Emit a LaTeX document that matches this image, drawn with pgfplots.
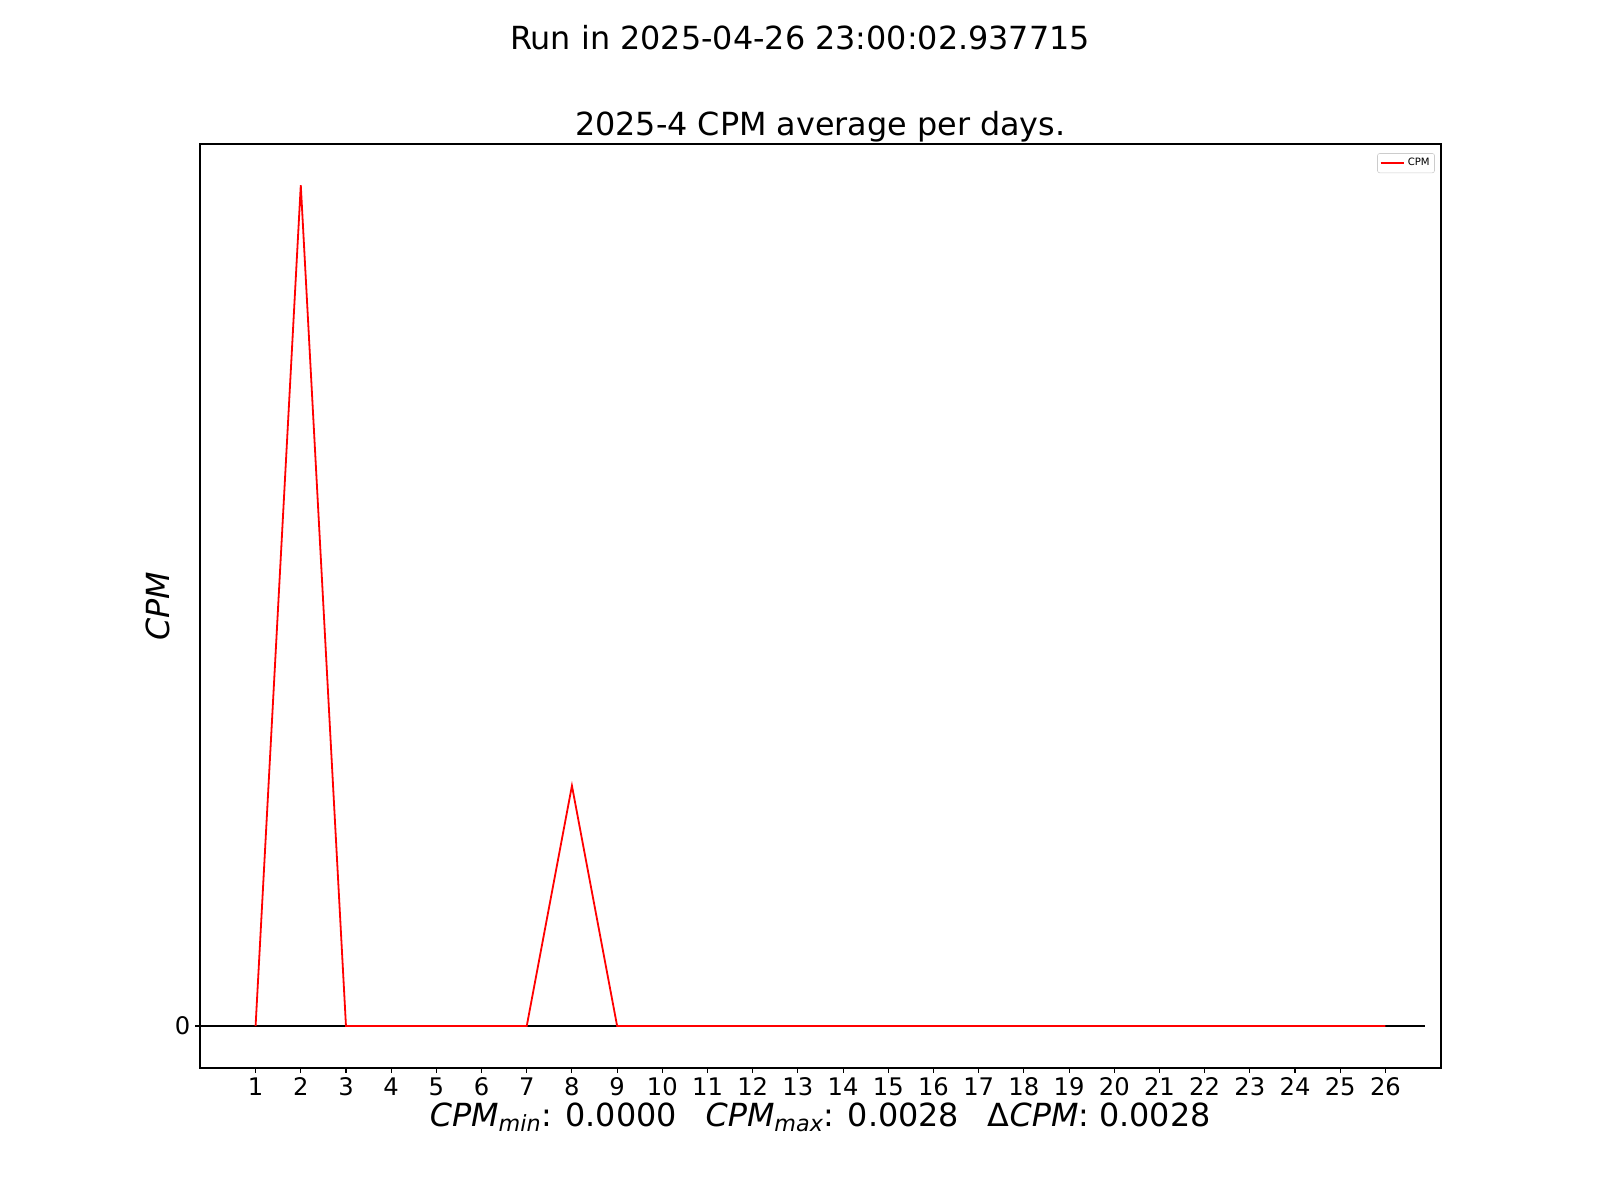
\documentclass[border=0pt]{standalone}
\usepackage{pgfplots}
\pgfplotsset{compat=1.18}
\usepackage{fontspec}
\setmainfont{DejaVu Sans}
\begin{document}
\begin{tikzpicture}[x=1bp,y=1bp]
\useasboundingbox (0,0) rectangle (1152,864);
\begin{axis}[
  at={(144bp,95bp)}, anchor=south west,
  scale only axis, width=893.5bp, height=665.3bp,
  xmin=-0.23, xmax=27.23,
  ymin=-0.00014, ymax=0.002937,
  xtick={1,...,26}, ytick={0}, yticklabels={0},
  tick align=outside, tick pos=lower,
  major tick length=3.5bp,
  every tick/.style={black, line width=0.8bp},
  axis line style={line width=0.8bp},
  /pgf/number format/assume math mode=true,
  tick label style={font=\fontsize{17.5}{20}\selectfont},
  scaled y ticks=false,
  legend style={at={(0.995,0.99)}, anchor=north east, font=\fontsize{7.3}{8.5}\selectfont,
    draw=black!20, rounded corners=1.5bp, inner sep=1.5bp, row sep=0pt},
  legend cell align=left,
]
\addplot[black, line width=1.3bp, forget plot] coordinates {(-0.23,0) (26.88,0)};
\addplot[red, line width=1.3bp] coordinates {
(1,0) (2,0.0028) (3,0) (4,0) (5,0) (6,0) (7,0) (8,0.0008) (9,0) (10,0)
(11,0) (12,0) (13,0) (14,0) (15,0) (16,0) (17,0) (18,0) (19,0) (20,0)
(21,0) (22,0) (23,0) (24,0) (25,0) (26,0)};
\addlegendentry{CPM}
\end{axis}
\node[font=\fontsize{23}{27}\selectfont] at (576,836.6) {Run in 2025-04-26 23:00:02.937715};
\node[font=\fontsize{23}{27}\selectfont] at (590.6,773) {2025-4 CPM average per days.};
\node[font=\fontsize{23}{27}\selectfont] at (590.6,59.5) {{\itshape CPM\textsubscript{min}}: 0.0000\hspace{0.9em}{\itshape CPM\textsubscript{max}}: 0.0028\hspace{0.9em}Δ{\itshape CPM}: 0.0028};
\node[font=\fontsize{23}{27}\selectfont, rotate=90] at (114,427.5) {\itshape CPM};
\end{tikzpicture}
\end{document}
